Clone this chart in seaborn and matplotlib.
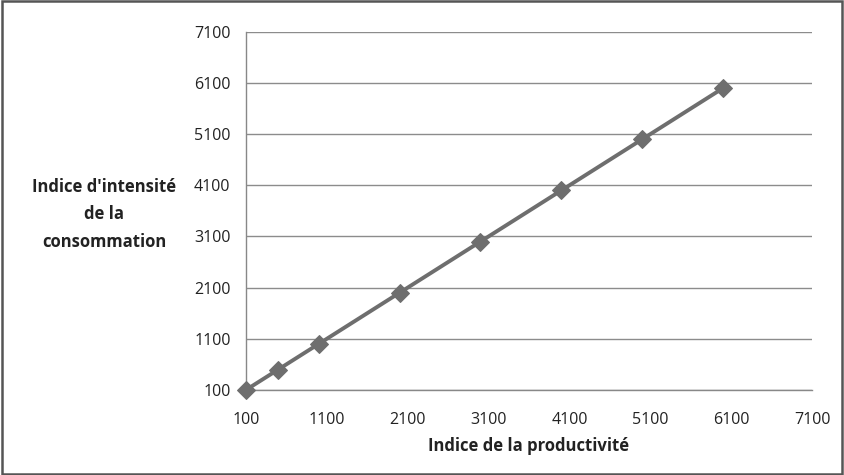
import matplotlib
matplotlib.use("Agg")
import matplotlib.pyplot as plt
import seaborn as sns
import pandas as pd

# valeurs
productivite = [100, 500, 1000, 2000, 3000, 4000, 5000, 6000]
intensite = [100, 500, 1000, 2000, 3000, 4000, 5000, 6000]
ticks = [100, 1100, 2100, 3100, 4100, 5100, 6100, 7100]

df = pd.DataFrame({"productivite": productivite, "intensite": intensite})

sns.set_style("white")
plt.rcParams["font.family"] = ["Open Sans", "DejaVu Sans"]

fig = plt.figure(figsize=(8.45, 4.75), dpi=100)
ax = fig.add_axes([0.291, 0.179, 0.670, 0.754])

sns.lineplot(data=df, x="productivite", y="intensite", ax=ax, color="#6e6e6e",
             linewidth=2.8, marker="D", markersize=9, markeredgecolor="#6e6e6e",
             clip_on=False, zorder=5)

ax.set_xlim(100, 7100)
ax.set_ylim(100, 7100)
ax.set_xticks(ticks)
ax.set_yticks(ticks)
ax.tick_params(axis="both", labelsize=11.5, colors="#222222")
ax.tick_params(axis="x", direction="out", length=5, color="#888888", width=1, pad=11)
ax.tick_params(axis="y", direction="out", length=5, color="#888888", width=1, pad=6)
ax.grid(axis="y", color="#8c8c8c", linewidth=1)
ax.grid(axis="x", visible=False)
for s in ["top", "right"]:
    ax.spines[s].set_visible(False)
for s in ["left", "bottom"]:
    ax.spines[s].set_color("#888888")
    ax.spines[s].set_linewidth(1)

ax.set_xlabel("Indice de la productivité", fontsize=12, fontweight="bold",
              color="#222222", labelpad=6)
ax.set_ylabel("Indice d'intensité\nde la\nconsommation", fontsize=12,
              fontweight="bold", color="#222222", rotation=0, ha="center",
              va="center", linespacing=1.65)
ax.yaxis.set_label_coords(-0.25, 0.49)

# cadre extérieur du graphique
fig.patches.append(plt.Rectangle((0.002, 0.003), 0.995, 0.994, transform=fig.transFigure,
                                 fill=False, edgecolor="#555555", linewidth=1.8))

fig.savefig("out.png", dpi=100)
